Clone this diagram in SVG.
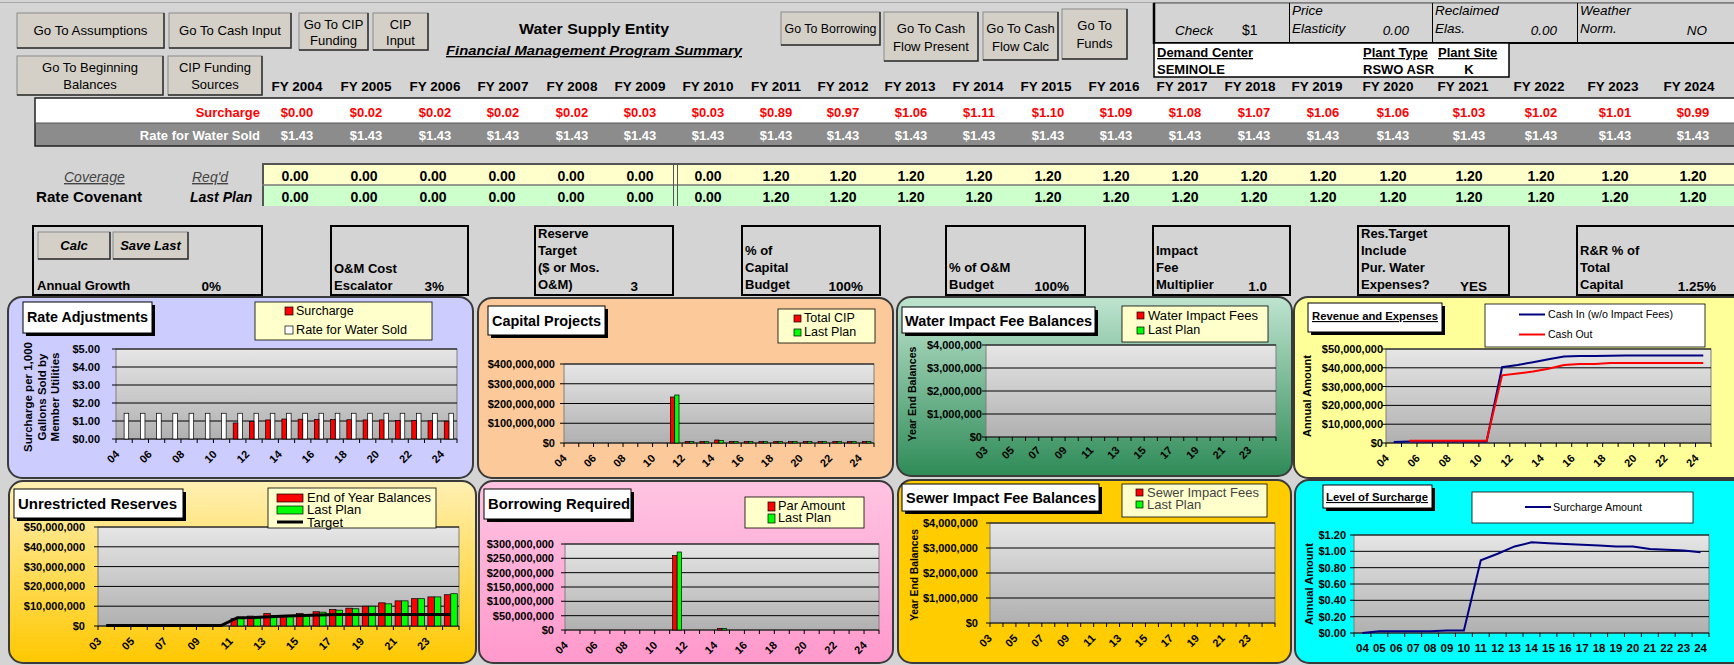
<svg xmlns="http://www.w3.org/2000/svg" width="1734" height="665" viewBox="0 0 1734 665">
<defs>
<linearGradient id="gPlot" x1="0" y1="0" x2="0" y2="1"><stop offset="0" stop-color="#e6e6e6"/><stop offset="1" stop-color="#b0b0b0"/></linearGradient>
<linearGradient id="gGreen" x1="0" y1="0" x2="0" y2="1"><stop offset="0" stop-color="#bfe4d0"/><stop offset="1" stop-color="#2e8b57"/></linearGradient>
<linearGradient id="gGold" x1="0" y1="0" x2="0" y2="1"><stop offset="0" stop-color="#fff0b4"/><stop offset="1" stop-color="#ffc800"/></linearGradient>
<linearGradient id="gPink" x1="0" y1="0" x2="0" y2="1"><stop offset="0" stop-color="#ffc4e2"/><stop offset="1" stop-color="#ff99cc"/></linearGradient>
</defs>
<style>
text{font-family:"Liberation Sans",Arial,sans-serif;fill:#000}
.btn{fill:#d4d0c8;stroke:#8a8a8a;stroke-width:1}
.bsh{fill:none;stroke:#303030;stroke-width:1.5}
.bt{font-size:13px;text-anchor:middle}
.fy{font-size:13.5px;font-weight:bold;text-anchor:middle}
.sv{font-size:13px;font-weight:bold;fill:#ff0000;text-anchor:middle}
.rv{font-size:13px;font-weight:bold;fill:#ffffff;text-anchor:middle}
.cv{font-size:14px;font-weight:bold;text-anchor:middle}
.ib{font-size:13.5px;font-style:italic}
.pbx{fill:none;stroke:#000;stroke-width:2}
.pt{font-size:13px;font-weight:bold}
.pv{font-size:13.5px;font-weight:bold;text-anchor:end}
.panel{stroke:#3a3a3a;stroke-width:2}
.plot{fill:url(#gPlot);stroke:#808080;stroke-width:1}
.grid{stroke:#000;stroke-width:1}
.yl{font-size:11px;font-weight:bold;text-anchor:end}
.xl{font-size:11px;font-weight:bold;text-anchor:end}
.yt{font-size:11.5px;font-weight:bold;text-anchor:middle}
.ttl{font-size:14px;font-weight:bold}
.tbox{fill:#fff;stroke:#000;stroke-width:1}
.shd{fill:#000}
.leg{fill:#ffffcc;stroke:#000;stroke-width:0.8}
.lt{font-size:12.5px}
.r{fill:#ff0000;stroke:#000;stroke-width:0.7}
.g{fill:#00ff00;stroke:#000;stroke-width:0.7}
.w{fill:#fff;stroke:#000;stroke-width:0.7}
.tk{stroke:#000;stroke-width:4;fill:none}
</style>
<rect x="0" y="0" width="1734" height="665" fill="#d4d4d4"/>
<line x1="0" y1="2.5" x2="1734" y2="2.5" stroke="#a8a8a8" stroke-width="1"/>

<g id="buttons">
<g id="btn-assumptions"><rect class="btn" x="17" y="13" width="147" height="35"/><path class="bsh" d="M17,48 H164 V13"/><text class="bt" x="90.5" y="35" textLength="114" lengthAdjust="spacingAndGlyphs">Go To Assumptions</text></g>
<g id="btn-cash-input"><rect class="btn" x="169" y="13" width="122" height="35"/><path class="bsh" d="M169,48 H291 V13"/><text class="bt" x="230" y="35" textLength="102" lengthAdjust="spacingAndGlyphs">Go To Cash Input</text></g>
<g id="btn-cip-funding"><rect class="btn" x="299" y="13" width="69" height="37"/><path class="bsh" d="M299,50 H368 V13"/><text class="bt" x="333.5" y="29">Go To CIP</text><text class="bt" x="333.5" y="45">Funding</text></g>
<g id="btn-cip-input"><rect class="btn" x="373" y="13" width="55" height="37"/><path class="bsh" d="M373,50 H428 V13"/><text class="bt" x="400.5" y="29">CIP</text><text class="bt" x="400.5" y="45">Input</text></g>
<g id="btn-beginning"><rect class="btn" x="17" y="56" width="146" height="39"/><path class="bsh" d="M17,95 H163 V56"/><text class="bt" x="90" y="72">Go To Beginning</text><text class="bt" x="90" y="89">Balances</text></g>
<g id="btn-cip-sources"><rect class="btn" x="168" y="56" width="94" height="39"/><path class="bsh" d="M168,95 H262 V56"/><text class="bt" x="215" y="72">CIP Funding</text><text class="bt" x="215" y="89">Sources</text></g>
<g id="btn-borrowing"><rect class="btn" x="781" y="12" width="99" height="33"/><path class="bsh" d="M781,45 H880 V12"/><text class="bt" x="830.5" y="33" textLength="92" lengthAdjust="spacingAndGlyphs">Go To Borrowing</text></g>
<g id="btn-cf-present"><rect class="btn" x="884" y="12" width="94" height="49"/><path class="bsh" d="M884,61 H978 V12"/><text class="bt" x="931" y="33">Go To Cash</text><text class="bt" x="931" y="51">Flow Present</text></g>
<g id="btn-cf-calc"><rect class="btn" x="983" y="12" width="75" height="48"/><path class="bsh" d="M983,60 H1058 V12"/><text class="bt" x="1020.5" y="33">Go To Cash</text><text class="bt" x="1020.5" y="51">Flow Calc</text></g>
<g id="btn-funds"><rect class="btn" x="1062" y="9" width="65" height="50"/><path class="bsh" d="M1062,59 H1127 V9"/><text class="bt" x="1094.5" y="30">Go To</text><text class="bt" x="1094.5" y="48">Funds</text></g>
</g>

<g id="title">
<text x="594" y="34" font-size="14.5" font-weight="bold" text-anchor="middle" textLength="150" lengthAdjust="spacingAndGlyphs">Water Supply Entity</text>
<text x="594" y="55" font-size="13.5" font-weight="bold" font-style="italic" text-decoration="underline" text-anchor="middle" textLength="296" lengthAdjust="spacingAndGlyphs">Financial Management Program Summary</text>
</g>

<g id="info-block">
<rect x="1153" y="3" width="581" height="40" fill="#d4d4d4"/>
<line x1="1153" y1="3" x2="1734" y2="3" stroke="#555" stroke-width="1"/>
<line x1="1154" y1="3" x2="1154" y2="44" stroke="#000" stroke-width="2.5"/>
<line x1="1289.5" y1="3" x2="1289.5" y2="43" stroke="#000" stroke-width="1"/>
<line x1="1432.5" y1="3" x2="1432.5" y2="43" stroke="#000" stroke-width="1"/>
<line x1="1577.5" y1="3" x2="1577.5" y2="43" stroke="#000" stroke-width="1"/>
<line x1="1153" y1="43" x2="1734" y2="43" stroke="#000" stroke-width="2"/>
<text class="ib" x="1175" y="35" font-size="14">Check</text>
<text x="1242" y="35" font-size="14">$1</text>
<text class="ib" x="1292" y="15">Price</text>
<text class="ib" x="1292" y="33">Elasticity</text>
<text class="ib" x="1409" y="35" text-anchor="end">0.00</text>
<text class="ib" x="1435" y="15">Reclaimed</text>
<text class="ib" x="1435" y="33">Elas.</text>
<text class="ib" x="1557" y="35" text-anchor="end">0.00</text>
<text class="ib" x="1580" y="15">Weather</text>
<text class="ib" x="1580" y="33">Norm.</text>
<text class="ib" x="1707" y="35" text-anchor="end">NO</text>
<rect x="1154" y="43" width="355" height="34" fill="#fff" stroke="#000" stroke-width="1.5"/>
<text x="1157" y="57" font-size="13" font-weight="bold" text-decoration="underline">Demand Center</text>
<text x="1363" y="57" font-size="13" font-weight="bold" text-decoration="underline">Plant Type</text>
<text x="1438" y="57" font-size="13" font-weight="bold" text-decoration="underline">Plant Site</text>
<text x="1157" y="74" font-size="13" font-weight="bold">SEMINOLE</text>
<text x="1363" y="74" font-size="13" font-weight="bold">RSWO ASR</text>
<text x="1469" y="74" font-size="13" font-weight="bold" text-anchor="middle">K</text>
</g>

<g id="fy-header">
<text class="fy" x="297" y="91">FY 2004</text><text class="fy" x="366" y="91">FY 2005</text><text class="fy" x="435" y="91">FY 2006</text><text class="fy" x="503" y="91">FY 2007</text><text class="fy" x="572" y="91">FY 2008</text><text class="fy" x="640" y="91">FY 2009</text><text class="fy" x="708" y="91">FY 2010</text><text class="fy" x="776" y="91">FY 2011</text><text class="fy" x="843" y="91">FY 2012</text><text class="fy" x="910" y="91">FY 2013</text><text class="fy" x="978" y="91">FY 2014</text><text class="fy" x="1046" y="91">FY 2015</text><text class="fy" x="1114" y="91">FY 2016</text><text class="fy" x="1182" y="91">FY 2017</text><text class="fy" x="1250" y="91">FY 2018</text><text class="fy" x="1317" y="91">FY 2019</text><text class="fy" x="1388" y="91">FY 2020</text><text class="fy" x="1463" y="91">FY 2021</text><text class="fy" x="1539" y="91">FY 2022</text><text class="fy" x="1613" y="91">FY 2023</text><text class="fy" x="1689" y="91">FY 2024</text>
</g>

<g id="rate-table">
<rect x="35" y="98" width="1700" height="25" fill="#fff"/>
<rect x="35" y="123" width="1700" height="23" fill="#8c8c8c"/>
<rect x="35" y="98" width="1702" height="48" fill="none" stroke="#222" stroke-width="1.5"/>
<line x1="35" y1="123" x2="1734" y2="123" stroke="#555" stroke-width="1"/>
<text class="sv" x="260" y="117" style="text-anchor:end">Surcharge</text>
<text class="rv" x="260" y="140" style="text-anchor:end">Rate for Water Sold</text>
<text class="sv" x="297" y="117">$0.00</text><text class="sv" x="366" y="117">$0.02</text><text class="sv" x="435" y="117">$0.02</text><text class="sv" x="503" y="117">$0.02</text><text class="sv" x="572" y="117">$0.02</text><text class="sv" x="640" y="117">$0.03</text><text class="sv" x="708" y="117">$0.03</text><text class="sv" x="776" y="117">$0.89</text><text class="sv" x="843" y="117">$0.97</text><text class="sv" x="911" y="117">$1.06</text><text class="sv" x="979" y="117">$1.11</text><text class="sv" x="1048" y="117">$1.10</text><text class="sv" x="1116" y="117">$1.09</text><text class="sv" x="1185" y="117">$1.08</text><text class="sv" x="1254" y="117">$1.07</text><text class="sv" x="1323" y="117">$1.06</text><text class="sv" x="1393" y="117">$1.06</text><text class="sv" x="1469" y="117">$1.03</text><text class="sv" x="1541" y="117">$1.02</text><text class="sv" x="1615" y="117">$1.01</text><text class="sv" x="1693" y="117">$0.99</text>
<text class="rv" x="297" y="140">$1.43</text><text class="rv" x="366" y="140">$1.43</text><text class="rv" x="435" y="140">$1.43</text><text class="rv" x="503" y="140">$1.43</text><text class="rv" x="572" y="140">$1.43</text><text class="rv" x="640" y="140">$1.43</text><text class="rv" x="708" y="140">$1.43</text><text class="rv" x="776" y="140">$1.43</text><text class="rv" x="843" y="140">$1.43</text><text class="rv" x="911" y="140">$1.43</text><text class="rv" x="979" y="140">$1.43</text><text class="rv" x="1048" y="140">$1.43</text><text class="rv" x="1116" y="140">$1.43</text><text class="rv" x="1185" y="140">$1.43</text><text class="rv" x="1254" y="140">$1.43</text><text class="rv" x="1323" y="140">$1.43</text><text class="rv" x="1393" y="140">$1.43</text><text class="rv" x="1469" y="140">$1.43</text><text class="rv" x="1541" y="140">$1.43</text><text class="rv" x="1615" y="140">$1.43</text><text class="rv" x="1693" y="140">$1.43</text>
</g>

<g id="coverage-table">
<text x="64" y="182" font-size="14" font-style="italic" text-decoration="underline" style="fill:#444">Coverage</text>
<text x="192" y="182" font-size="14" font-style="italic" text-decoration="underline" style="fill:#444">Req'd</text>
<text x="36" y="202" font-size="14" font-weight="bold" textLength="106" lengthAdjust="spacingAndGlyphs">Rate Covenant</text>
<text x="190" y="202" font-size="14" font-weight="bold" font-style="italic">Last Plan</text>
<rect x="262" y="164" width="1472" height="21" fill="#ffffcc"/>
<rect x="262" y="185" width="1472" height="21" fill="#ccffcc"/>
<line x1="262" y1="164" x2="1734" y2="164" stroke="#555" stroke-width="2"/>
<line x1="263" y1="164" x2="263" y2="206" stroke="#555" stroke-width="2"/>
<line x1="262" y1="185" x2="1734" y2="185" stroke="#777" stroke-width="1.5"/>
<line x1="673.5" y1="164" x2="673.5" y2="206" stroke="#555" stroke-width="1"/>
<line x1="677.5" y1="164" x2="677.5" y2="206" stroke="#555" stroke-width="1"/>
<text class="cv" x="295" y="181">0.00</text><text class="cv" x="364" y="181">0.00</text><text class="cv" x="433" y="181">0.00</text><text class="cv" x="502" y="181">0.00</text><text class="cv" x="571" y="181">0.00</text><text class="cv" x="640" y="181">0.00</text><text class="cv" x="708" y="181">0.00</text><text class="cv" x="776" y="181">1.20</text><text class="cv" x="843" y="181">1.20</text><text class="cv" x="911" y="181">1.20</text><text class="cv" x="979" y="181">1.20</text><text class="cv" x="1048" y="181">1.20</text><text class="cv" x="1116" y="181">1.20</text><text class="cv" x="1185" y="181">1.20</text><text class="cv" x="1254" y="181">1.20</text><text class="cv" x="1323" y="181">1.20</text><text class="cv" x="1393" y="181">1.20</text><text class="cv" x="1469" y="181">1.20</text><text class="cv" x="1541" y="181">1.20</text><text class="cv" x="1615" y="181">1.20</text><text class="cv" x="1693" y="181">1.20</text>
<text class="cv" x="295" y="202">0.00</text><text class="cv" x="364" y="202">0.00</text><text class="cv" x="433" y="202">0.00</text><text class="cv" x="502" y="202">0.00</text><text class="cv" x="571" y="202">0.00</text><text class="cv" x="640" y="202">0.00</text><text class="cv" x="708" y="202">0.00</text><text class="cv" x="776" y="202">1.20</text><text class="cv" x="843" y="202">1.20</text><text class="cv" x="911" y="202">1.20</text><text class="cv" x="979" y="202">1.20</text><text class="cv" x="1048" y="202">1.20</text><text class="cv" x="1116" y="202">1.20</text><text class="cv" x="1185" y="202">1.20</text><text class="cv" x="1254" y="202">1.20</text><text class="cv" x="1323" y="202">1.20</text><text class="cv" x="1393" y="202">1.20</text><text class="cv" x="1469" y="202">1.20</text><text class="cv" x="1541" y="202">1.20</text><text class="cv" x="1615" y="202">1.20</text><text class="cv" x="1693" y="202">1.20</text>
</g>

<g id="param-growth">
<rect class="pbx" x="33" y="226" width="229" height="69"/>
<rect class="btn" x="38" y="232" width="72" height="27"/><path class="bsh" d="M38,259 H110 V232"/><text x="74" y="250" font-size="13" font-weight="bold" font-style="italic" text-anchor="middle">Calc</text>
<rect class="btn" x="113" y="232" width="75" height="27"/><path class="bsh" d="M113,259 H188 V232"/><text x="150.5" y="250" font-size="13" font-weight="bold" font-style="italic" text-anchor="middle">Save Last</text>
<text class="pt" x="37" y="290">Annual Growth</text><text class="pv" x="221" y="291">0%</text>
</g>
<g id="param-escalator">
<rect class="pbx" x="331" y="226" width="137" height="69"/>
<text class="pt" x="334" y="273">O&amp;M Cost</text><text class="pt" x="334" y="290">Escalator</text><text class="pv" x="444" y="291">3%</text>
</g>
<g id="param-reserve">
<rect class="pbx" x="535" y="226" width="138" height="69"/>
<text class="pt" x="538" y="238">Reserve</text><text class="pt" x="538" y="255">Target</text><text class="pt" x="538" y="272">($ or Mos.</text><text class="pt" x="538" y="289">O&amp;M)</text><text class="pv" x="638" y="291">3</text>
</g>
<g id="param-capital">
<rect class="pbx" x="742" y="226" width="138" height="69"/>
<text class="pt" x="745" y="255">% of</text><text class="pt" x="745" y="272">Capital</text><text class="pt" x="745" y="289">Budget</text><text class="pv" x="863" y="291">100%</text>
</g>
<g id="param-om">
<rect class="pbx" x="946" y="226" width="139" height="69"/>
<text class="pt" x="949" y="272">% of O&amp;M</text><text class="pt" x="949" y="289">Budget</text><text class="pv" x="1069" y="291">100%</text>
</g>
<g id="param-impact">
<rect class="pbx" x="1153" y="226" width="137" height="69"/>
<text class="pt" x="1156" y="255">Impact</text><text class="pt" x="1156" y="272">Fee</text><text class="pt" x="1156" y="289">Multiplier</text><text class="pv" x="1267" y="291">1.0</text>
</g>
<g id="param-restarget">
<rect class="pbx" x="1358" y="226" width="151" height="69"/>
<text class="pt" x="1361" y="238">Res.Target</text><text class="pt" x="1361" y="255">Include</text><text class="pt" x="1361" y="272">Pur. Water</text><text class="pt" x="1361" y="289">Expenses?</text><text class="pv" x="1487" y="291">YES</text>
</g>
<g id="param-rr">
<rect class="pbx" x="1577" y="226" width="160" height="69"/>
<text class="pt" x="1580" y="255">R&amp;R % of</text><text class="pt" x="1580" y="272">Total</text><text class="pt" x="1580" y="289">Capital</text><text class="pv" x="1716" y="291">1.25%</text>
</g>

<!-- Panel 1 -->
<g id="chart-rate-adjustments">
<rect class="panel" x="8" y="297" width="465" height="181" rx="14" fill="#ccccff"/>
<rect class="shd" x="26" y="305" width="129" height="31"/><rect class="tbox" x="23" y="302" width="129" height="31"/>
<text class="ttl" x="27" y="322" textLength="121" lengthAdjust="spacingAndGlyphs">Rate Adjustments</text>
<rect class="leg" x="255" y="302" width="177" height="38"/>
<rect class="r" x="285" y="307" width="8" height="8"/><text class="lt" x="296" y="315">Surcharge</text>
<rect class="w" x="285" y="326" width="8" height="8"/><text class="lt" x="296" y="334" textLength="111" lengthAdjust="spacingAndGlyphs">Rate for Water Sold</text>
<text class="yt" transform="translate(32,397) rotate(-90)">Surcharge per 1,000</text>
<text class="yt" transform="translate(46,397) rotate(-90)">Gallons Sold by</text>
<text class="yt" transform="translate(59,397) rotate(-90)">Member Utilities</text>
<rect class="plot" x="116" y="349" width="341" height="90"/>
<path class="grid" d="M116,349H457M116,367H457M116,385H457M116,403H457M116,421H457M116,439H457"/>
<line class="tk" x1="114" y1="348.5" x2="114" y2="439.5" stroke-dasharray="1 17"/>
<line class="tk" x1="115.5" y1="441" x2="457.5" y2="441" stroke-dasharray="1 15.238"/>
<text class="yl" x="100" y="353">$5.00</text><text class="yl" x="100" y="371">$4.00</text><text class="yl" x="100" y="389">$3.00</text><text class="yl" x="100" y="407">$2.00</text><text class="yl" x="100" y="425">$1.00</text><text class="yl" x="100" y="443">$0.00</text>
<g>
<rect class="w" x="124.12" y="413.26" width="4.6" height="25.74"/><rect class="w" x="140.36" y="413.26" width="4.6" height="25.74"/><rect class="w" x="156.60" y="413.26" width="4.6" height="25.74"/><rect class="w" x="172.83" y="413.26" width="4.6" height="25.74"/><rect class="w" x="189.07" y="413.26" width="4.6" height="25.74"/><rect class="w" x="205.31" y="413.26" width="4.6" height="25.74"/><rect class="w" x="221.55" y="413.26" width="4.6" height="25.74"/><rect class="w" x="237.79" y="413.26" width="4.6" height="25.74"/><rect class="w" x="254.02" y="413.26" width="4.6" height="25.74"/><rect class="w" x="270.26" y="413.26" width="4.6" height="25.74"/><rect class="w" x="286.50" y="413.26" width="4.6" height="25.74"/><rect class="w" x="302.74" y="413.26" width="4.6" height="25.74"/><rect class="w" x="318.98" y="413.26" width="4.6" height="25.74"/><rect class="w" x="335.21" y="413.26" width="4.6" height="25.74"/><rect class="w" x="351.45" y="413.26" width="4.6" height="25.74"/><rect class="w" x="367.69" y="413.26" width="4.6" height="25.74"/><rect class="w" x="383.93" y="413.26" width="4.6" height="25.74"/><rect class="w" x="400.17" y="413.26" width="4.6" height="25.74"/><rect class="w" x="416.40" y="413.26" width="4.6" height="25.74"/><rect class="w" x="432.64" y="413.26" width="4.6" height="25.74"/><rect class="w" x="448.88" y="413.26" width="4.6" height="25.74"/>
<rect class="r" x="233.19" y="422.98" width="4.6" height="16.02"/><rect class="r" x="249.42" y="421.54" width="4.6" height="17.46"/><rect class="r" x="265.66" y="419.92" width="4.6" height="19.08"/><rect class="r" x="281.90" y="419.02" width="4.6" height="19.98"/><rect class="r" x="298.14" y="419.20" width="4.6" height="19.80"/><rect class="r" x="314.38" y="419.38" width="4.6" height="19.62"/><rect class="r" x="330.61" y="419.56" width="4.6" height="19.44"/><rect class="r" x="346.85" y="419.74" width="4.6" height="19.26"/><rect class="r" x="363.09" y="419.92" width="4.6" height="19.08"/><rect class="r" x="379.33" y="419.92" width="4.6" height="19.08"/><rect class="r" x="395.57" y="420.46" width="4.6" height="18.54"/><rect class="r" x="411.80" y="420.64" width="4.6" height="18.36"/><rect class="r" x="428.04" y="420.82" width="4.6" height="18.18"/><rect class="r" x="444.28" y="421.18" width="4.6" height="17.82"/>
</g>
<text class="xl" transform="translate(120.1,455) rotate(-45)">04</text><text class="xl" transform="translate(152.6,455) rotate(-45)">06</text><text class="xl" transform="translate(185.1,455) rotate(-45)">08</text><text class="xl" transform="translate(217.6,455) rotate(-45)">10</text><text class="xl" transform="translate(250.0,455) rotate(-45)">12</text><text class="xl" transform="translate(282.5,455) rotate(-45)">14</text><text class="xl" transform="translate(315.0,455) rotate(-45)">16</text><text class="xl" transform="translate(347.5,455) rotate(-45)">18</text><text class="xl" transform="translate(379.9,455) rotate(-45)">20</text><text class="xl" transform="translate(412.4,455) rotate(-45)">22</text><text class="xl" transform="translate(444.9,455) rotate(-45)">24</text>
</g>

<!-- Panel 2 -->
<g id="chart-capital-projects">
<rect class="panel" x="478" y="298" width="415" height="180" rx="14" fill="#fbc99a"/>
<rect class="shd" x="491" y="309" width="117" height="29"/><rect class="tbox" x="488" y="306" width="117" height="29"/>
<text class="ttl" x="492" y="326" textLength="109" lengthAdjust="spacingAndGlyphs">Capital Projects</text>
<rect class="leg" x="778" y="309" width="97" height="34"/>
<rect class="r" x="794" y="315" width="7" height="7"/><text class="lt" x="804" y="322">Total CIP</text>
<rect class="g" x="794" y="329" width="7" height="7"/><text class="lt" x="804" y="336">Last Plan</text>
<rect class="plot" x="564" y="364" width="310" height="79"/>
<path class="grid" d="M564,364H874M564,383.75H874M564,403.5H874M564,423.25H874M564,443H874"/>
<line class="tk" x1="562" y1="363.5" x2="562" y2="443.5" stroke-dasharray="1 18.75"/>
<line class="tk" x1="563.5" y1="445" x2="874.5" y2="445" stroke-dasharray="1 13.762"/>
<text class="yl" x="555" y="368">$400,000,000</text><text class="yl" x="555" y="387.75">$300,000,000</text><text class="yl" x="555" y="407.5">$200,000,000</text><text class="yl" x="555" y="427.25">$100,000,000</text><text class="yl" x="555" y="447">$0</text>
<rect class="r" x="670.41" y="397" width="4.3" height="46"/><rect class="g" x="674.71" y="395" width="4.3" height="48"/>
<g>
<rect class="r" x="685.18" y="441.5" width="4.3" height="1.5"/><rect class="g" x="689.48" y="441.5" width="4.3" height="1.5"/>
<rect class="r" x="699.94" y="441.5" width="4.3" height="1.5"/><rect class="g" x="704.24" y="441.5" width="4.3" height="1.5"/>
<rect class="r" x="714.70" y="440" width="4.3" height="3"/><rect class="g" x="719.00" y="440.5" width="4.3" height="2.5"/>
<rect class="r" x="729.46" y="441.5" width="4.3" height="1.5"/><rect class="g" x="733.76" y="441.5" width="4.3" height="1.5"/>
<rect class="r" x="744.22" y="441.5" width="4.3" height="1.5"/><rect class="g" x="748.52" y="441.5" width="4.3" height="1.5"/>
<rect class="r" x="758.99" y="441.5" width="4.3" height="1.5"/><rect class="g" x="763.29" y="441.5" width="4.3" height="1.5"/>
<rect class="r" x="773.75" y="441.5" width="4.3" height="1.5"/><rect class="g" x="778.05" y="441.5" width="4.3" height="1.5"/>
<rect class="r" x="788.51" y="441.5" width="4.3" height="1.5"/><rect class="g" x="792.81" y="441.5" width="4.3" height="1.5"/>
<rect class="r" x="803.27" y="441.5" width="4.3" height="1.5"/><rect class="g" x="807.57" y="441.5" width="4.3" height="1.5"/>
<rect class="r" x="818.03" y="441.5" width="4.3" height="1.5"/><rect class="g" x="822.33" y="441.5" width="4.3" height="1.5"/>
<rect class="r" x="832.80" y="441.5" width="4.3" height="1.5"/><rect class="g" x="837.10" y="441.5" width="4.3" height="1.5"/>
<rect class="r" x="847.56" y="441.5" width="4.3" height="1.5"/><rect class="g" x="851.86" y="441.5" width="4.3" height="1.5"/>
<rect class="r" x="862.32" y="441.5" width="4.3" height="1.5"/><rect class="g" x="866.62" y="441.5" width="4.3" height="1.5"/>
</g>
<text class="xl" transform="translate(567.4,459) rotate(-45)">04</text><text class="xl" transform="translate(596.9,459) rotate(-45)">06</text><text class="xl" transform="translate(626.4,459) rotate(-45)">08</text><text class="xl" transform="translate(656.0,459) rotate(-45)">10</text><text class="xl" transform="translate(685.5,459) rotate(-45)">12</text><text class="xl" transform="translate(715.0,459) rotate(-45)">14</text><text class="xl" transform="translate(744.5,459) rotate(-45)">16</text><text class="xl" transform="translate(774.0,459) rotate(-45)">18</text><text class="xl" transform="translate(803.6,459) rotate(-45)">20</text><text class="xl" transform="translate(833.1,459) rotate(-45)">22</text><text class="xl" transform="translate(862.6,459) rotate(-45)">24</text>
</g>

<!-- Panel 3 -->
<g id="chart-water-impact">
<rect class="panel" x="897" y="297" width="395" height="179" rx="14" fill="url(#gGreen)"/>
<rect class="shd" x="905" y="310" width="193" height="26"/><rect class="tbox" x="902" y="307" width="193" height="26"/>
<text class="ttl" x="905" y="326" textLength="187" lengthAdjust="spacingAndGlyphs">Water Impact Fee Balances</text>
<rect class="leg" x="1122" y="306" width="146" height="36"/>
<rect class="r" x="1137" y="312" width="7" height="7"/><text class="lt" x="1148" y="320" font-size="13" textLength="110" lengthAdjust="spacingAndGlyphs">Water Impact Fees</text>
<rect class="g" x="1137" y="327" width="7" height="7"/><text class="lt" x="1148" y="334" font-size="13">Last Plan</text>
<text class="yt" transform="translate(916,394) rotate(-90)" font-size="11" textLength="95" lengthAdjust="spacingAndGlyphs">Year End Balances</text>
<rect class="plot" x="986" y="345" width="290" height="92"/>
<path class="grid" d="M986,345H1276M986,368H1276M986,391H1276M986,414H1276M986,437H1276"/>
<line class="tk" x1="984" y1="344.5" x2="984" y2="437.5" stroke-dasharray="1 22"/>
<line class="tk" x1="985.5" y1="439" x2="1276.5" y2="439" stroke-dasharray="1 12.182"/>
<text class="yl" x="982" y="349" font-size="11.5">$4,000,000</text><text class="yl" x="982" y="372" font-size="11.5">$3,000,000</text><text class="yl" x="982" y="395" font-size="11.5">$2,000,000</text><text class="yl" x="982" y="418" font-size="11.5">$1,000,000</text><text class="yl" x="982" y="441" font-size="11.5">$0</text>
<text class="xl" transform="translate(988.6,451) rotate(-45)">03</text><text class="xl" transform="translate(1014.9,451) rotate(-45)">05</text><text class="xl" transform="translate(1041.3,451) rotate(-45)">07</text><text class="xl" transform="translate(1067.6,451) rotate(-45)">09</text><text class="xl" transform="translate(1094.0,451) rotate(-45)">11</text><text class="xl" transform="translate(1120.4,451) rotate(-45)">13</text><text class="xl" transform="translate(1146.7,451) rotate(-45)">15</text><text class="xl" transform="translate(1173.1,451) rotate(-45)">17</text><text class="xl" transform="translate(1199.5,451) rotate(-45)">19</text><text class="xl" transform="translate(1225.8,451) rotate(-45)">21</text><text class="xl" transform="translate(1252.2,451) rotate(-45)">23</text>
</g>

<!-- Panel 4 -->
<g id="chart-revenue-expenses">
<rect class="panel" x="1294" y="297" width="460" height="181" rx="14" fill="#ffff99"/>
<rect class="shd" x="1311" y="306" width="134" height="29"/><rect class="tbox" x="1308" y="303" width="134" height="29"/>
<text x="1312" y="320" font-size="11.5" font-weight="bold" text-decoration="underline" textLength="126" lengthAdjust="spacingAndGlyphs">Revenue and Expenses</text>
<rect x="1485" y="304" width="220" height="43" fill="#fff" stroke="#000" stroke-width="0.8"/>
<line x1="1519" y1="314.5" x2="1545" y2="314.5" stroke="#000080" stroke-width="2"/>
<text x="1548" y="318" font-size="10.5" textLength="125" lengthAdjust="spacingAndGlyphs">Cash In (w/o Impact Fees)</text>
<line x1="1519" y1="334.5" x2="1545" y2="334.5" stroke="#ff0000" stroke-width="2"/>
<text x="1548" y="338" font-size="10.5">Cash Out</text>
<text class="yt" transform="translate(1311,396) rotate(-90)" font-size="12" textLength="82" lengthAdjust="spacingAndGlyphs">Annual Amount</text>
<rect class="plot" x="1386" y="349" width="325" height="94"/>
<path class="grid" d="M1386,349H1711M1386,367.8H1711M1386,386.6H1711M1386,405.4H1711M1386,424.2H1711M1386,443H1711"/>
<line class="tk" x1="1384" y1="348.5" x2="1384" y2="443.5" stroke-dasharray="1 17.8"/>
<line class="tk" x1="1385.5" y1="445" x2="1711.5" y2="445" stroke-dasharray="1 14.476"/>
<text class="yl" x="1383" y="353" font-size="12">$50,000,000</text><text class="yl" x="1383" y="371.8" font-size="12">$40,000,000</text><text class="yl" x="1383" y="390.6" font-size="12">$30,000,000</text><text class="yl" x="1383" y="409.4" font-size="12">$20,000,000</text><text class="yl" x="1383" y="428.2" font-size="12">$10,000,000</text><text class="yl" x="1383" y="447" font-size="12">$0</text>
<polyline fill="none" stroke="#000080" stroke-width="2" points="1393.74,442.06 1409.21,441.5 1424.69,441.5 1440.17,441.5 1455.64,441.5 1471.12,441.5 1486.60,441.5 1502.07,367.2 1517.55,365.0 1533.02,362.2 1548.50,359.3 1563.98,356.5 1579.45,356.1 1594.93,355.9 1610.40,355.8 1625.88,355.6 1641.36,355.4 1656.83,355.4 1672.31,355.4 1687.79,355.4 1703.26,355.4"/>
<polyline fill="none" stroke="#ff0000" stroke-width="2" points="1409.21,440.7 1424.69,440.7 1440.17,440.7 1455.64,440.7 1471.12,440.7 1486.60,440.7 1502.07,375.3 1517.55,373.4 1533.02,371.6 1548.50,368.7 1563.98,365.0 1579.45,364.0 1594.93,364.0 1610.40,363.1 1625.88,363.1 1641.36,363.1 1656.83,363.1 1672.31,363.1 1687.79,363.1 1703.26,363.1"/>
<text class="xl" transform="translate(1389.7,459) rotate(-45)">04</text><text class="xl" transform="translate(1420.7,459) rotate(-45)">06</text><text class="xl" transform="translate(1451.6,459) rotate(-45)">08</text><text class="xl" transform="translate(1482.6,459) rotate(-45)">10</text><text class="xl" transform="translate(1513.6,459) rotate(-45)">12</text><text class="xl" transform="translate(1544.5,459) rotate(-45)">14</text><text class="xl" transform="translate(1575.5,459) rotate(-45)">16</text><text class="xl" transform="translate(1606.4,459) rotate(-45)">18</text><text class="xl" transform="translate(1637.4,459) rotate(-45)">20</text><text class="xl" transform="translate(1668.3,459) rotate(-45)">22</text><text class="xl" transform="translate(1699.3,459) rotate(-45)">24</text>
</g>

<!-- Panel 5 -->
<g id="chart-unrestricted-reserves">
<rect class="panel" x="9" y="481" width="467" height="182" rx="14" fill="url(#gGold)"/>
<rect class="shd" x="17" y="492" width="169" height="29"/><rect class="tbox" x="14" y="489" width="169" height="29"/>
<text class="ttl" x="18" y="509" font-size="15" textLength="159" lengthAdjust="spacingAndGlyphs">Unrestricted Reserves</text>
<rect class="plot" x="98" y="527" width="361" height="99"/>
<path class="grid" d="M98,527H459M98,546.8H459M98,566.6H459M98,586.4H459M98,606.2H459M98,626H459"/>
<line class="tk" x1="96" y1="526.5" x2="96" y2="626.5" stroke-dasharray="1 18.8"/>
<line class="tk" x1="97.5" y1="628" x2="459.5" y2="628" stroke-dasharray="1 15.409"/>
<rect class="leg" x="268" y="488" width="168" height="40"/>
<rect class="r" x="277" y="494" width="26" height="8"/><text x="307" y="502" font-size="13" textLength="124" lengthAdjust="spacingAndGlyphs">End of Year Balances</text>
<rect class="g" x="277" y="506" width="26" height="8"/><text x="307" y="514" font-size="13">Last Plan</text>
<line x1="277" y1="522" x2="303" y2="522" stroke="#000" stroke-width="3"/><text x="307" y="527" font-size="13">Target</text>
<text class="yl" x="85" y="531" font-size="10.5">$50,000,000</text><text class="yl" x="85" y="550.8" font-size="10.5">$40,000,000</text><text class="yl" x="85" y="570.6" font-size="10.5">$30,000,000</text><text class="yl" x="85" y="590.4" font-size="10.5">$20,000,000</text><text class="yl" x="85" y="610.2" font-size="10.5">$10,000,000</text><text class="yl" x="85" y="630" font-size="10.5">$0</text>
<g>
<rect class="r" x="230.98" y="618.67" width="6.5" height="7.33"/><rect class="g" x="237.48" y="617.68" width="6.5" height="8.32"/>
<rect class="r" x="247.39" y="616.10" width="6.5" height="9.90"/><rect class="g" x="253.89" y="617.68" width="6.5" height="8.32"/>
<rect class="r" x="263.80" y="613.53" width="6.5" height="12.47"/><rect class="g" x="270.30" y="615.51" width="6.5" height="10.49"/>
<rect class="r" x="280.20" y="616.10" width="6.5" height="9.90"/><rect class="g" x="286.70" y="615.51" width="6.5" height="10.49"/>
<rect class="r" x="296.61" y="613.53" width="6.5" height="12.47"/><rect class="g" x="303.11" y="614.52" width="6.5" height="11.48"/>
<rect class="r" x="313.02" y="611.74" width="6.5" height="14.26"/><rect class="g" x="319.52" y="612.14" width="6.5" height="13.86"/>
<rect class="r" x="329.43" y="609.57" width="6.5" height="16.43"/><rect class="g" x="335.93" y="610.16" width="6.5" height="15.84"/>
<rect class="r" x="345.84" y="608.18" width="6.5" height="17.82"/><rect class="g" x="352.34" y="608.77" width="6.5" height="17.23"/>
<rect class="r" x="362.25" y="606.20" width="6.5" height="19.80"/><rect class="g" x="368.75" y="606.20" width="6.5" height="19.80"/>
<rect class="r" x="378.66" y="602.83" width="6.5" height="23.17"/><rect class="g" x="385.16" y="603.82" width="6.5" height="22.18"/>
<rect class="r" x="395.07" y="600.85" width="6.5" height="25.15"/><rect class="g" x="401.57" y="600.85" width="6.5" height="25.15"/>
<rect class="r" x="411.48" y="598.68" width="6.5" height="27.32"/><rect class="g" x="417.98" y="598.68" width="6.5" height="27.32"/>
<rect class="r" x="427.88" y="596.89" width="6.5" height="29.11"/><rect class="g" x="434.38" y="596.89" width="6.5" height="29.11"/>
<rect class="r" x="444.29" y="594.72" width="6.5" height="31.28"/><rect class="g" x="450.79" y="593.73" width="6.5" height="32.27"/>
</g>
<polyline fill="none" stroke="#000" stroke-width="3" points="106.20,625.6 221.07,625.6 237.48,617.7 253.89,617.5 270.30,616.7 286.70,616.1 303.11,615.5 319.52,615.1 335.93,614.5 450.79,614.5"/>
<text class="xl" font-size="12.5" transform="translate(102.2,642) rotate(-45)">03</text><text class="xl" font-size="12.5" transform="translate(135.0,642) rotate(-45)">05</text><text class="xl" font-size="12.5" transform="translate(167.8,642) rotate(-45)">07</text><text class="xl" font-size="12.5" transform="translate(200.7,642) rotate(-45)">09</text><text class="xl" font-size="12.5" transform="translate(233.5,642) rotate(-45)">11</text><text class="xl" font-size="12.5" transform="translate(266.3,642) rotate(-45)">13</text><text class="xl" font-size="12.5" transform="translate(299.1,642) rotate(-45)">15</text><text class="xl" font-size="12.5" transform="translate(331.9,642) rotate(-45)">17</text><text class="xl" font-size="12.5" transform="translate(364.8,642) rotate(-45)">19</text><text class="xl" font-size="12.5" transform="translate(397.6,642) rotate(-45)">21</text><text class="xl" font-size="12.5" transform="translate(430.4,642) rotate(-45)">23</text>
</g>

<!-- Panel 6 -->
<g id="chart-borrowing-required">
<rect class="panel" x="479" y="481" width="414" height="182" rx="14" fill="url(#gPink)"/>
<rect class="shd" x="487" y="492" width="147" height="30"/><rect class="tbox" x="484" y="489" width="147" height="30"/>
<text class="ttl" x="488" y="509" font-size="14.5" textLength="142" lengthAdjust="spacingAndGlyphs">Borrowing Required</text>
<rect class="leg" x="745" y="497" width="119" height="31"/>
<rect class="r" x="768" y="502" width="7" height="9"/><text x="778" y="510" font-size="13" textLength="67" lengthAdjust="spacingAndGlyphs">Par Amount</text>
<rect class="g" x="768" y="514" width="7" height="9"/><text x="778" y="522" font-size="13" textLength="53" lengthAdjust="spacingAndGlyphs">Last Plan</text>
<rect class="plot" x="565" y="544" width="314" height="86"/>
<path class="grid" d="M565,544H879M565,558.33H879M565,572.67H879M565,587H879M565,601.33H879M565,615.67H879M565,630H879"/>
<line class="tk" x1="563" y1="543.5" x2="563" y2="630.5" stroke-dasharray="1 13.33"/>
<line class="tk" x1="564.5" y1="632" x2="879.5" y2="632" stroke-dasharray="1 13.952"/>
<text class="yl" x="554" y="548">$300,000,000</text><text class="yl" x="554" y="562.33">$250,000,000</text><text class="yl" x="554" y="576.67">$200,000,000</text><text class="yl" x="554" y="591">$150,000,000</text><text class="yl" x="554" y="605.33">$100,000,000</text><text class="yl" x="554" y="619.67">$50,000,000</text><text class="yl" x="554" y="634">$0</text>
<rect class="r" x="672.64" y="555.5" width="4.5" height="74.5"/><rect class="g" x="677.14" y="552" width="4.5" height="78"/>
<rect class="r" x="717.5" y="628.5" width="4.5" height="1.5"/><rect class="g" x="722.0" y="628.5" width="4.5" height="1.5"/>
<text class="xl" transform="translate(568.5,646) rotate(-45)">04</text><text class="xl" transform="translate(598.4,646) rotate(-45)">06</text><text class="xl" transform="translate(628.3,646) rotate(-45)">08</text><text class="xl" transform="translate(658.2,646) rotate(-45)">10</text><text class="xl" transform="translate(688.1,646) rotate(-45)">12</text><text class="xl" transform="translate(718.0,646) rotate(-45)">14</text><text class="xl" transform="translate(747.9,646) rotate(-45)">16</text><text class="xl" transform="translate(777.8,646) rotate(-45)">18</text><text class="xl" transform="translate(807.7,646) rotate(-45)">20</text><text class="xl" transform="translate(837.6,646) rotate(-45)">22</text><text class="xl" transform="translate(867.5,646) rotate(-45)">24</text>
</g>

<!-- Panel 7 -->
<g id="chart-sewer-impact">
<rect class="panel" x="898" y="480" width="393" height="183" rx="14" fill="#ffcc00"/>
<rect class="shd" x="905" y="487" width="197" height="27"/><rect class="tbox" x="902" y="484" width="197" height="27"/>
<text class="ttl" x="906" y="503" textLength="190" lengthAdjust="spacingAndGlyphs">Sewer Impact Fee Balances</text>
<rect class="leg" x="1122" y="484" width="145" height="33"/>
<rect class="r" x="1136" y="489" width="7" height="7"/><text x="1147" y="497" font-size="13" textLength="112" lengthAdjust="spacingAndGlyphs" style="fill:#444">Sewer Impact Fees</text>
<rect class="g" x="1136" y="501" width="7" height="7"/><text x="1147" y="509" font-size="13" style="fill:#444">Last Plan</text>
<text class="yt" transform="translate(918,575) rotate(-90)" font-size="11" textLength="92" lengthAdjust="spacingAndGlyphs">Year End Balances</text>
<rect class="plot" x="990" y="523" width="285" height="100"/>
<path class="grid" d="M990,523H1275M990,548H1275M990,573H1275M990,598H1275M990,623H1275"/>
<line class="tk" x1="988" y1="522.5" x2="988" y2="623.5" stroke-dasharray="1 24"/>
<line class="tk" x1="989.5" y1="625" x2="1275.5" y2="625" stroke-dasharray="1 11.955"/>
<text class="yl" x="978" y="527">$4,000,000</text><text class="yl" x="978" y="552">$3,000,000</text><text class="yl" x="978" y="577">$2,000,000</text><text class="yl" x="978" y="602">$1,000,000</text><text class="yl" x="978" y="627">$0</text>
<text class="xl" transform="translate(992.5,639) rotate(-45)">03</text><text class="xl" transform="translate(1018.4,639) rotate(-45)">05</text><text class="xl" transform="translate(1044.3,639) rotate(-45)">07</text><text class="xl" transform="translate(1070.2,639) rotate(-45)">09</text><text class="xl" transform="translate(1096.1,639) rotate(-45)">11</text><text class="xl" transform="translate(1122.0,639) rotate(-45)">13</text><text class="xl" transform="translate(1148.0,639) rotate(-45)">15</text><text class="xl" transform="translate(1173.9,639) rotate(-45)">17</text><text class="xl" transform="translate(1199.8,639) rotate(-45)">19</text><text class="xl" transform="translate(1225.7,639) rotate(-45)">21</text><text class="xl" transform="translate(1251.6,639) rotate(-45)">23</text>
</g>

<!-- Panel 8 -->
<g id="chart-level-of-surcharge">
<rect class="panel" x="1295" y="480" width="460" height="183" rx="14" fill="#00ffff"/>
<rect class="shd" x="1326" y="488" width="109" height="23"/><rect class="tbox" x="1323" y="485" width="109" height="23"/>
<text x="1326" y="501" font-size="11" font-weight="bold" text-decoration="underline" textLength="102" lengthAdjust="spacingAndGlyphs">Level of Surcharge</text>
<rect x="1472" y="492" width="221" height="31" fill="#fff" stroke="#000" stroke-width="0.8"/>
<line x1="1525" y1="507" x2="1551" y2="507" stroke="#000080" stroke-width="2"/>
<text x="1553" y="511" font-size="11" textLength="89" lengthAdjust="spacingAndGlyphs">Surcharge Amount</text>
<text class="yt" transform="translate(1313,584) rotate(-90)" font-size="12" textLength="82" lengthAdjust="spacingAndGlyphs">Annual Amount</text>
<rect class="plot" x="1354" y="535" width="355" height="98"/>
<path class="grid" d="M1354,535H1709M1354,551.33H1709M1354,567.67H1709M1354,584H1709M1354,600.33H1709M1354,616.67H1709M1354,633H1709"/>
<line class="tk" x1="1352" y1="534.5" x2="1352" y2="633.5" stroke-dasharray="1 15.33"/>
<line class="tk" x1="1353.5" y1="635" x2="1709.5" y2="635" stroke-dasharray="1 15.905"/>
<text class="yl" x="1346" y="539" font-size="11.5">$1.20</text><text class="yl" x="1346" y="555.33" font-size="11.5">$1.00</text><text class="yl" x="1346" y="571.67" font-size="11.5">$0.80</text><text class="yl" x="1346" y="588" font-size="11.5">$0.60</text><text class="yl" x="1346" y="604.33" font-size="11.5">$0.40</text><text class="yl" x="1346" y="620.67" font-size="11.5">$0.20</text><text class="yl" x="1346" y="637" font-size="11.5">$0.00</text>
<polyline fill="none" stroke="#000080" stroke-width="2" points="1362.45,633 1379.36,631.37 1396.26,631.37 1413.17,631.37 1430.07,631.37 1446.98,630.55 1463.88,630.55 1480.79,560.31 1497.69,553.78 1514.60,546.43 1531.50,542.35 1548.40,543.16 1565.31,543.98 1582.21,544.80 1599.12,545.61 1616.02,546.43 1632.93,546.43 1649.83,548.88 1666.74,549.70 1683.64,550.51 1700.55,552.15"/>
<g font-size="11.5" font-weight="bold" text-anchor="middle">
<text x="1362.45" y="652">04</text><text x="1379.36" y="652">05</text><text x="1396.26" y="652">06</text><text x="1413.17" y="652">07</text><text x="1430.07" y="652">08</text><text x="1446.98" y="652">09</text><text x="1463.88" y="652">10</text><text x="1480.79" y="652">11</text><text x="1497.69" y="652">12</text><text x="1514.60" y="652">13</text><text x="1531.50" y="652">14</text><text x="1548.40" y="652">15</text><text x="1565.31" y="652">16</text><text x="1582.21" y="652">17</text><text x="1599.12" y="652">18</text><text x="1616.02" y="652">19</text><text x="1632.93" y="652">20</text><text x="1649.83" y="652">21</text><text x="1666.74" y="652">22</text><text x="1683.64" y="652">23</text><text x="1700.55" y="652">24</text>
</g>
</g>
</svg>
